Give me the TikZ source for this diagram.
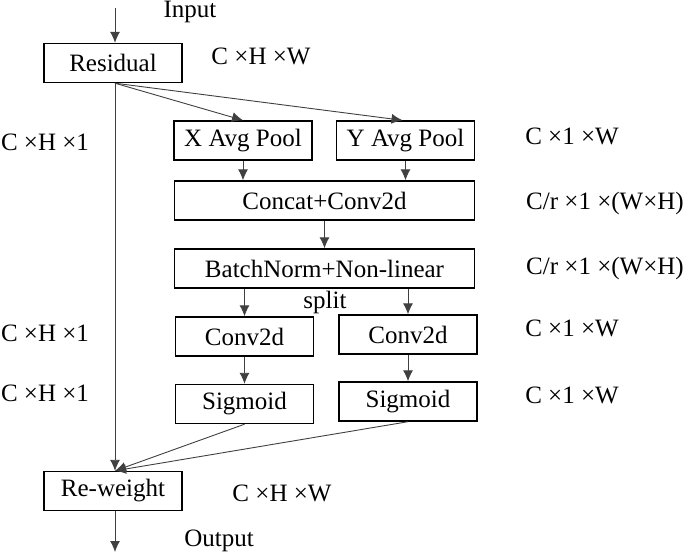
\documentclass[tikz,border=0pt]{standalone}
\usepackage{fontspec}
\setmainfont{Liberation Serif}
\usetikzlibrary{arrows.meta}
\tikzset{
  blk/.style={draw, line width=0.7pt, minimum width=69pt, minimum height=19.5pt, inner sep=0pt, font=\fontsize{12.5}{14}\selectfont},
  wideblk/.style={blk, minimum width=150pt},
  dimlbl/.style={font=\fontsize{12.5}{14}\selectfont, inner sep=0pt},
  flow/.style={draw=black!75, line width=0.45pt, -{Latex[length=5.5pt,width=5pt]}}
}
\begin{document}
\begin{tikzpicture}[x=0.5pt,y=-0.5pt]
\useasboundingbox (0,0) rectangle (685,556);

\node[blk] (res) at (113,63) {Residual};
\node[blk] (xpool) at (243,140.5) {X Avg Pool};
\node[blk] (ypool) at (405.5,140.5) {Y Avg Pool};
\node[wideblk] (cat) at (324.5,200.5) {Concat+Conv2d};
\node[wideblk] (bn) at (324.5,268.5) {BatchNorm+Non-linear};
\node[blk] (convl) at (244.5,336.5) {Conv2d};
\node[blk] (convr) at (408,334.5) {Conv2d};
\node[blk] (sigl) at (244.5,404) {Sigmoid};
\node[blk] (sigr) at (408,401.5) {Sigmoid};
\node[blk] (rew) at (113,491) {Re-weight};

\coordinate (in) at (115,8);
\coordinate (out) at (115,552);

\node[dimlbl] (tin) at (190,12) {Input};
\node[dimlbl] (tout) at (219,541) {Output};
\node[dimlbl] (split) at (325,302) {split};

\node[dimlbl] (d1) at (261,56) {C ×H ×W};
\node[dimlbl] (d2) at (45,142) {C ×H ×1};
\node[dimlbl] (d3) at (572,136) {C ×1 ×W};
\node[dimlbl] (d4) at (605,203) {C/r ×1 ×(W×H)};
\node[dimlbl] (d5) at (605,268) {C/r ×1 ×(W×H)};
\node[dimlbl] (d6) at (45,333) {C ×H ×1};
\node[dimlbl] (d7) at (572,328) {C ×1 ×W};
\node[dimlbl] (d8) at (45,393) {C ×H ×1};
\node[dimlbl] (d9) at (572,395) {C ×1 ×W};
\node[dimlbl] (d10) at (282,493) {C ×H ×W};

\draw[flow] (in) -- (in |- res.north);
\draw[flow] (res.south -| in) -- (xpool.north);
\draw[flow] (res.south -| in) -- ([xshift=-1.5pt]ypool.north);
\draw[flow] (res.south -| in) -- (rew.north -| in);
\draw[flow] (xpool.south) -- (xpool.south |- cat.north);
\draw[flow] (ypool.south) -- (ypool.south |- cat.north);
\draw[flow] (cat.south) -- (bn.north);
\draw[flow] (bn.south -| convl) -- (convl.north);
\draw[flow] (bn.south -| convr) -- (convr.north);
\draw[flow] (convl.south) -- (sigl.north);
\draw[flow] (convr.south) -- (sigr.north);
\draw[flow] (sigl.south) -- (rew.north -| in);
\draw[flow] (sigr.south) -- (rew.north -| in);
\draw[flow] (rew.south -| in) -- (out);
\end{tikzpicture}
\end{document}
